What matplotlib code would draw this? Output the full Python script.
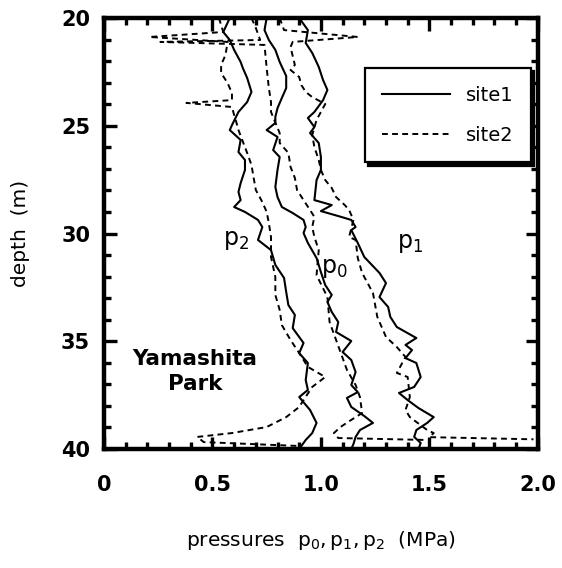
import matplotlib.pyplot as plt
from matplotlib.ticker import MultipleLocator

# depth (m) and pressure (MPa) traces
site1_p2_depth = [20.0, 20.65, 21.02, 21.48, 22.04, 22.32, 22.78, 23.43, 23.90, 24.36, 24.97, 25.20,
                  25.66, 26.22, 26.59, 27.05, 27.66, 28.07, 28.45, 28.77, 29.00, 29.37, 29.70, 30.30,
                  30.77, 31.46, 32.06, 32.71, 33.32, 33.78, 34.39, 35.08, 35.55, 36.01, 36.80, 37.26,
                  37.59, 38.19, 38.79, 39.26, 39.58, 40.0]
site1_p2 = [0.58, 0.55, 0.58, 0.60, 0.63, 0.64, 0.66, 0.68, 0.66, 0.62, 0.59, 0.58,
            0.63, 0.62, 0.65, 0.65, 0.63, 0.62, 0.63, 0.60, 0.65, 0.71, 0.73, 0.71,
            0.77, 0.79, 0.83, 0.84, 0.85, 0.88, 0.87, 0.92, 0.90, 0.94, 0.93, 0.94,
            0.90, 0.95, 0.98, 0.96, 0.93, 0.90]

site1_p0_depth = [20.0, 20.56, 21.02, 21.48, 22.04, 22.69, 23.25, 23.71, 24.18, 24.59, 24.87, 25.20,
                  25.52, 26.13, 26.45, 27.05, 27.84, 28.31, 28.77, 29.05, 29.37, 29.70, 29.98, 30.44,
                  31.14, 31.79, 32.39, 32.85, 33.18, 33.64, 34.11, 34.57, 34.99, 35.50, 35.87, 36.43,
                  37.03, 37.36, 37.63, 38.05, 38.47, 38.79, 39.12, 39.44, 39.77, 40.0]
site1_p0 = [0.75, 0.74, 0.76, 0.79, 0.81, 0.84, 0.84, 0.82, 0.80, 0.79, 0.79, 0.75,
            0.80, 0.78, 0.81, 0.80, 0.79, 0.80, 0.82, 0.87, 0.92, 0.93, 0.92, 0.94,
            0.98, 1.00, 1.02, 1.05, 1.03, 1.05, 1.08, 1.07, 1.14, 1.10, 1.14, 1.16,
            1.14, 1.17, 1.12, 1.14, 1.20, 1.24, 1.18, 1.16, 1.15, 1.14]

site1_p1_depth = [20.0, 20.56, 21.16, 21.62, 22.27, 22.88, 23.34, 23.81, 24.36, 24.64, 25.06, 25.34,
                  25.80, 26.45, 27.05, 27.52, 28.45, 28.68, 28.96, 29.19, 29.37, 29.70, 29.84, 30.44,
                  31.09, 31.83, 32.30, 32.95, 33.41, 33.87, 34.34, 34.85, 35.17, 35.41, 35.78, 36.01,
                  36.66, 37.12, 37.40, 37.73, 38.10, 38.52, 38.79, 39.12, 39.44, 39.72, 40.0]
site1_p1 = [0.90, 0.94, 0.93, 0.96, 0.99, 1.01, 1.03, 1.01, 0.97, 0.94, 0.97, 0.95,
            0.99, 1.00, 1.00, 0.98, 0.97, 1.05, 1.00, 1.08, 1.14, 1.16, 1.14, 1.17,
            1.20, 1.27, 1.30, 1.27, 1.31, 1.32, 1.35, 1.44, 1.39, 1.42, 1.39, 1.44,
            1.46, 1.43, 1.36, 1.40, 1.45, 1.52, 1.49, 1.44, 1.43, 1.46, 1.45]

site2_p2_depth = [20.0, 20.65, 20.88, 21.11, 21.72, 22.18, 22.55, 23.02, 23.48, 23.81, 23.94, 24.13,
                  24.50, 24.83, 25.20, 26.26, 26.82, 27.42, 27.98, 28.54, 29.00, 29.51, 30.16, 31.09,
                  32.02, 32.85, 33.55, 34.25, 34.94, 35.55, 36.19, 36.66, 37.12, 37.73, 38.05, 38.52,
                  38.98, 39.26, 39.44, 39.68, 39.86]
site2_p2 = [0.53, 0.55, 0.21, 0.57, 0.56, 0.54, 0.54, 0.57, 0.59, 0.59, 0.38, 0.59,
            0.60, 0.61, 0.62, 0.66, 0.68, 0.69, 0.70, 0.73, 0.75, 0.76, 0.77, 0.77,
            0.79, 0.79, 0.81, 0.82, 0.86, 0.90, 0.94, 1.02, 0.96, 0.92, 0.90, 0.84,
            0.75, 0.59, 0.43, 0.46, 0.90]

site2_p0_depth = [20.0, 20.46, 21.02, 21.11, 21.25, 22.32, 23.25, 23.90, 24.36, 25.34, 25.80, 26.26,
                  26.91, 27.42, 27.98, 28.45, 28.91, 29.23, 29.70, 30.16, 30.77, 31.93, 32.95, 34.11,
                  34.94, 36.33, 37.03, 37.59, 38.33, 38.65, 38.98, 39.26, 39.49, 39.58]
site2_p0 = [0.68, 0.70, 0.72, 0.26, 0.74, 0.75, 0.76, 0.77, 0.77, 0.81, 0.81, 0.85,
            0.86, 0.88, 0.89, 0.92, 0.95, 0.97, 0.96, 0.97, 0.99, 0.98, 1.03, 1.04,
            1.07, 1.12, 1.16, 1.18, 1.19, 1.14, 1.09, 1.06, 1.08, 1.48]

site2_p1_depth = [20.0, 20.56, 20.88, 21.11, 21.35, 22.18, 22.41, 22.74, 23.11, 23.43, 23.67, 23.99,
                  24.73, 25.43, 25.99, 26.59, 27.05, 27.52, 27.89, 28.31, 28.68, 28.91, 29.37, 30.16,
                  30.30, 31.14, 31.83, 32.76, 33.87, 34.80, 35.27, 35.73, 36.47, 36.66, 37.59, 38.19,
                  38.52, 39.12, 39.26, 39.45, 39.55]
site2_p1 = [0.81, 0.83, 1.17, 0.87, 0.86, 0.88, 0.86, 0.90, 0.91, 0.93, 0.96, 1.02,
            0.98, 0.96, 0.97, 0.99, 1.00, 1.02, 1.05, 1.07, 1.11, 1.13, 1.15, 1.13,
            1.16, 1.17, 1.19, 1.24, 1.26, 1.30, 1.35, 1.39, 1.35, 1.40, 1.41, 1.39,
            1.41, 1.49, 1.52, 1.50, 1.98]

plt.rcParams['font.family'] = 'DejaVu Sans'

fig = plt.figure(figsize=(5.62, 5.68), dpi=100)
ax = fig.add_axes([0.185, 0.2095, 0.772, 0.7588])

lw = 1.5
dash = (0, (3, 2.2))
ax.plot(site1_p2, site1_p2_depth, color='black', lw=lw, label='site1')
ax.plot(site1_p0, site1_p0_depth, color='black', lw=lw)
ax.plot(site1_p1, site1_p1_depth, color='black', lw=lw)
ax.plot(site2_p2, site2_p2_depth, color='black', lw=1.4, ls=dash, label='site2')
ax.plot(site2_p0, site2_p0_depth, color='black', lw=1.4, ls=dash)
ax.plot(site2_p1, site2_p1_depth, color='black', lw=1.4, ls=dash)

ax.set_xlim(0, 2.0)
ax.set_ylim(40, 20)
ax.set_xticks([0, 0.5, 1.0, 1.5, 2.0])
ax.set_xticklabels(['0', '0.5', '1.0', '1.5', '2.0'])
ax.set_yticks([20, 25, 30, 35, 40])
ax.xaxis.set_minor_locator(MultipleLocator(0.1))
ax.yaxis.set_minor_locator(MultipleLocator(1))
ax.tick_params(which='both', direction='in', top=True, right=True, width=2.4, color='black')
ax.tick_params(which='major', length=9)
ax.tick_params(which='minor', length=5)
ax.tick_params(axis='x', which='major', pad=19, labelsize=15)
ax.tick_params(axis='y', which='major', pad=10, labelsize=15)
for lab in ax.get_xticklabels() + ax.get_yticklabels():
    lab.set_fontweight('bold')
for sp in ax.spines.values():
    sp.set_linewidth(3.2)

ax.set_ylabel('depth  (m)', fontsize=14.5, labelpad=22)
ax.set_xlabel(r'pressures  $\mathregular{p_0,p_1,p_2}$  (MPa)', fontsize=14.5, labelpad=24)

ax.text(1.41, 30.45, r'$\mathregular{p_1}$', fontsize=17, ha='center', va='center')
ax.text(1.06, 31.6, r'$\mathregular{p_0}$', fontsize=17, ha='center', va='center')
ax.text(0.61, 30.3, r'$\mathregular{p_2}$', fontsize=17, ha='center', va='center')
ax.text(0.42, 36.4, 'Yamashita\nPark', fontsize=15.5, fontweight='bold', ha='center', va='center',
        linespacing=1.3)

leg = ax.legend(loc='upper right', bbox_to_anchor=(0.984, 0.884), borderaxespad=0, fontsize=14,
                frameon=True, fancybox=False, edgecolor='black', handlelength=3.5,
                labelspacing=1.1, borderpad=0.9, handletextpad=0.8,
                shadow={'color': 'black', 'ox': 2.5, 'oy': -2.5, 'alpha': 1})
leg.get_frame().set_linewidth(1.6)
leg.get_frame().set_alpha(1)

fig.savefig('out.png', dpi=100)
